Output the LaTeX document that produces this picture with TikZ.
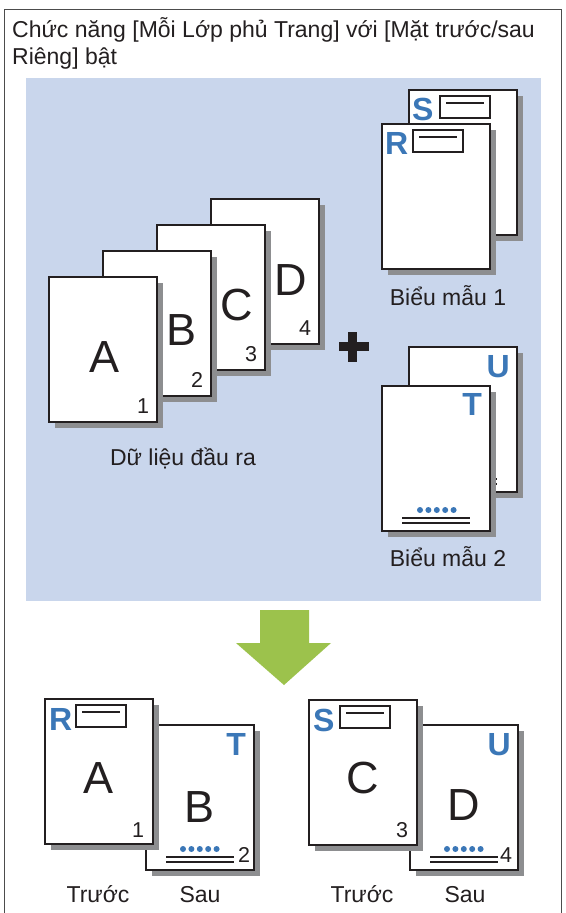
\documentclass[tikz,border=0pt]{standalone}
\usepackage{fontspec}
\setmainfont{Liberation Sans}
\usetikzlibrary{shadows,calc}
\definecolor{panelblue}{HTML}{C9D6EC}
\definecolor{markblue}{HTML}{3B77B7}
\definecolor{arrowgreen}{HTML}{9CC24C}
\definecolor{shadowgray}{HTML}{8D8E90}
\definecolor{inkblack}{HTML}{231F20}
\tikzset{
  sheet/.style={draw=inkblack, line width=1.5pt, fill=white, minimum width=108pt, minimum height=145pt,
    inner sep=0pt, outer sep=0pt,
    drop shadow={shadow xshift=6pt, shadow yshift=-6pt, fill=shadowgray, opacity=1}},
  bigletter/.style={font=\fontsize{45}{45}\selectfont, inner sep=0pt, anchor=base, text=inkblack},
  pagenum/.style={font=\fontsize{21.5}{21.5}\selectfont, inner sep=0pt, anchor=base, text=inkblack},
  markletter/.style={font=\fontsize{32}{32}\selectfont\bfseries, text=markblue, inner sep=0pt},
  lbl/.style={font=\fontsize{23}{23}\selectfont, inner sep=0pt, anchor=base, text=inkblack},
  formframe/.style={draw=inkblack, line width=1.5pt, fill=white, minimum width=50pt, minimum height=22pt,
    inner sep=0pt, outer sep=0pt},
  bluedot/.style={circle, fill=markblue, inner sep=0pt, minimum size=6pt},
  rule/.style={draw=inkblack, line width=1.4pt},
}
\newcommand\formbox[2]{%
  \node[formframe, anchor=north west] (#1) at ($(#2.north west)+(31,6)$) {};
  \draw[rule] ($(#1.north west)+(6,7)$) -- ($(#1.north east)+(-6,7)$);
}
\newcommand\pagefooter[2]{%
  \foreach \i in {0,...,4} \node[bluedot] (#1-dot\i) at ($(#1.south west)+(#2+8.4*\i,-21)$) {};
  \draw[rule] ($(#1.south west)+(20,-13)$) -- ++(68,0);
  \draw[rule] ($(#1.south west)+(20,-8)$) -- ++(68,0);
}
\begin{document}
\begin{tikzpicture}[x=1pt,y=-1pt]
\useasboundingbox (0,0) rectangle (565,913);
\fill[white] (0,0) rectangle (565,913);
% outer frame
\draw[black!70, line width=1pt] (4.5,920) -- (4.5,9) -- (561.5,9) -- (561.5,920);
% title
\node[lbl, anchor=base west] (title1) at (12,37) {Chức năng [Mỗi Lớp phủ Trang] với [Mặt trước/sau};
\node[lbl, anchor=base west] (title2) at (12,64) {Riêng] bật};
% blue panel
\fill[panelblue] (26,78) rectangle (541,600.5);

% ---- output data stack ----
\node[sheet] (pD) at (265,271.5) {};
\node[bigletter] (lD) at ($(pD.north west)+(80,96)$) {D};
\node[pagenum] (nD) at ($(pD.north west)+(94,136)$) {4};
\node[sheet] (pC) at (211,297.5) {};
\node[bigletter] (lC) at ($(pC.north west)+(80,95)$) {C};
\node[pagenum] (nC) at ($(pC.north west)+(94,136)$) {3};
\node[sheet] (pB) at (157,323.5) {};
\node[bigletter] (lB) at ($(pB.north west)+(79,94)$) {B};
\node[pagenum] (nB) at ($(pB.north west)+(94,136)$) {2};
\node[sheet] (pA) at (103,349.5) {};
\node[bigletter] (lA) at ($(pA.north west)+(56,95)$) {A};
\node[pagenum] (nA) at ($(pA.north west)+(94,136)$) {1};
\node[lbl] (capdata) at (183,465) {Dữ liệu đầu ra};

% plus sign
\fill[inkblack] (339,342) rectangle (369,351);
\fill[inkblack] (348,332) rectangle (357,362);

% ---- form 1 ----
\node[sheet] (fS) at (463,162.5) {};
\node[markletter, anchor=base west] (mS) at ($(fS.north west)+(3,30)$) {S};
\formbox{bS}{fS}
\node[sheet] (fR) at (436,196.5) {};
\node[markletter, anchor=base west] (mR) at ($(fR.north west)+(3,30)$) {R};
\formbox{bR}{fR}
\node[lbl] (capf1) at (448,305) {Biểu mẫu 1};

% ---- form 2 ----
\node[sheet] (fU) at (463,419.5) {};
\node[markletter, anchor=base east] (mU) at ($(fU.north east)+(-7,30)$) {U};
\pagefooter{fU}{38}
\node[sheet] (fT) at (436,458.5) {};
\node[markletter, anchor=base east] (mT) at ($(fT.north east)+(-8,29)$) {T};
\pagefooter{fT}{38}
\node[lbl] (capf2) at (448,566) {Biểu mẫu 2};

% arrow
\fill[arrowgreen] (260,610) -- (309,610) -- (309,643) -- (331,643) -- (284,685) -- (236,643) -- (260,643) -- cycle;

% ---- result 1 ----
\node[sheet] (rB) at (200,797.5) {};
\node[markletter, anchor=base east] (rmT) at ($(rB.north east)+(-8,30)$) {T};
\node[bigletter] (rlB) at ($(rB.north west)+(54,97)$) {B};
\pagefooter{rB}{37}
\node[pagenum] (rnB) at ($(rB.north west)+(98,137)$) {2};
\node[sheet] (rA) at (99,771.5) {};
\node[markletter, anchor=base west] (rmR) at ($(rA.north west)+(4,31)$) {R};
\formbox{rbR}{rA}
\node[bigletter] (rlA) at ($(rA.north west)+(54,94)$) {A};
\node[pagenum] (rnA) at ($(rA.north west)+(93,138)$) {1};
\node[lbl] (front1) at (98,902) {Trước};
\node[lbl] (back1) at (200,902) {Sau};

% ---- result 2 ----
\node[sheet] (rD) at (464,797.5) {};
\node[markletter, anchor=base east] (rmU) at ($(rD.north east)+(-7,30)$) {U};
\node[bigletter] (rlD) at ($(rD.north west)+(54,95)$) {D};
\pagefooter{rD}{37}
\node[pagenum] (rnD) at ($(rD.north west)+(96,137)$) {4};
\node[sheet] (rC) at (363,772.5) {};
\node[markletter, anchor=base west] (rmS) at ($(rC.north west)+(4,31)$) {S};
\formbox{rbS}{rC}
\node[bigletter] (rlC) at ($(rC.north west)+(54,93)$) {C};
\node[pagenum] (rnC) at ($(rC.north west)+(93,137)$) {3};
\node[lbl] (front2) at (362,902) {Trước};
\node[lbl] (back2) at (465,902) {Sau};
\end{tikzpicture}
\end{document}
